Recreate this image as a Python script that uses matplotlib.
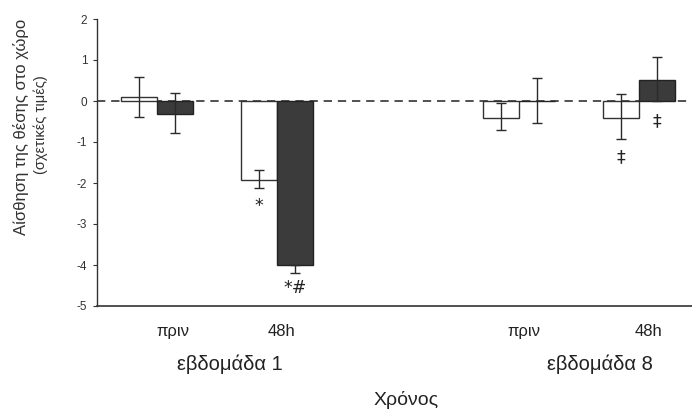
import matplotlib
matplotlib.use("Agg")
import matplotlib.pyplot as plt
import matplotlib.transforms as mtransforms
import numpy as np

# ---- data ----
time_labels = ["πριν", "48h", "πριν", "48h"]
week_labels = ["εβδομάδα 1", "εβδομάδα 8"]
white_values = [0.10, -1.93, -0.42, -0.42]
white_err_low = [0.50, 0.20, 0.29, 0.51]
white_err_high = [0.48, 0.25, 0.37, 0.59]
dark_values = [-0.32, -4.00, 0.00, 0.51]
dark_err_low = [0.46, 0.20, 0.53, 0.50]
dark_err_high = [0.52, 0.00, 0.56, 0.56]
white_marks = ["", "*", "", "‡"]
dark_marks = ["", "*#", "", "‡"]
ytick_vals = [2, 1, 0, -1, -2, -3, -4, -5]
ylabel_main = "Αίσθηση της θέσης στο χώρο"
ylabel_sub = "(σχετικές τιμές)"
xlabel = "Χρόνος"

# ---- layout ----
plt.rcParams['font.family'] = ['Liberation Sans', 'DejaVu Sans']
W, H = 692, 412
fig = plt.figure(figsize=(W / 100, H / 100), dpi=100)
ax = fig.add_axes([97 / W, 1 - 306 / H, 1 - 97 / W, (306 - 19) / H])

pair_centers = np.array([0.5, 1.5, 3.52, 4.52])
bw = 0.30
xw = pair_centers - bw / 2
xd = pair_centers + bw / 2

ax.bar(xw, white_values, width=bw, color="white", edgecolor="#333333",
       linewidth=1.0, zorder=2)
ax.bar(xd, dark_values, width=bw, color="#3b3b3b", edgecolor="#222222",
       linewidth=1.0, zorder=2)
ax.errorbar(xw, white_values, yerr=[white_err_low, white_err_high], fmt="none",
            ecolor="#2a2a2a", elinewidth=1.0, capsize=3.6, capthick=1.0, zorder=3)
ax.errorbar(xd, dark_values, yerr=[dark_err_low, dark_err_high], fmt="none",
            ecolor="#2a2a2a", elinewidth=1.0, capsize=3.6, capthick=1.0, zorder=3)

ax.axhline(0, color="#333333", lw=1.2, dashes=(5, 3.5), zorder=1)

# significance marks
for x, v, lo, m in zip(xw, white_values, white_err_low, white_marks):
    if m:
        ax.text(x, v - lo - 0.44, m, ha="center", va="center", fontsize=12.5,
                color="#222222", family="DejaVu Sans")
for x, v, lo, m in zip(xd, dark_values, dark_err_low, dark_marks):
    if m:
        yb = v - lo - 0.36 if v < 0 else -0.5
        ax.text(x, yb, m, ha="center", va="center", fontsize=12.5,
                color="#222222", family="DejaVu Sans")

ax.set_xlim(0, 4.96)
ax.set_ylim(-5, 2)
ax.set_yticks(ytick_vals)
ax.set_yticklabels([str(v) for v in ytick_vals], fontsize=8.5, color="#333333")
ax.tick_params(axis="y", length=3, width=0.8, pad=4, colors="#333333")

tick_pos = [0.63, 1.54, 3.56, 4.60]
ax.set_xticks(tick_pos)
ax.set_xticklabels(time_labels, fontsize=12, color="#222222")
ax.tick_params(axis="x", length=0, pad=13)

for s in ["top", "right"]:
    ax.spines[s].set_visible(False)
ax.spines["left"].set_color("#333333")
ax.spines["bottom"].set_color("#333333")
ax.spines["left"].set_linewidth(1.0)
ax.spines["bottom"].set_linewidth(1.2)

trans = mtransforms.blended_transform_factory(ax.transData, fig.transFigure)
for x, lab in zip([1.11, 4.19], week_labels):
    ax.text(x, 1 - 364 / H, lab, transform=trans, ha="center", va="center",
            fontsize=14.5, color="#222222")
ax.text(2.58, 1 - 400 / H, xlabel, transform=trans, ha="center", va="center",
        fontsize=14, color="#222222")

fig.text(21 / W, 1 - 127 / H, ylabel_main, rotation=90, ha="center",
         va="center", fontsize=12, color="#333333")
fig.text(41 / W, 1 - 125 / H, ylabel_sub, rotation=90, ha="center",
         va="center", fontsize=10.5, color="#333333")

fig.savefig("out.png", dpi=100)
